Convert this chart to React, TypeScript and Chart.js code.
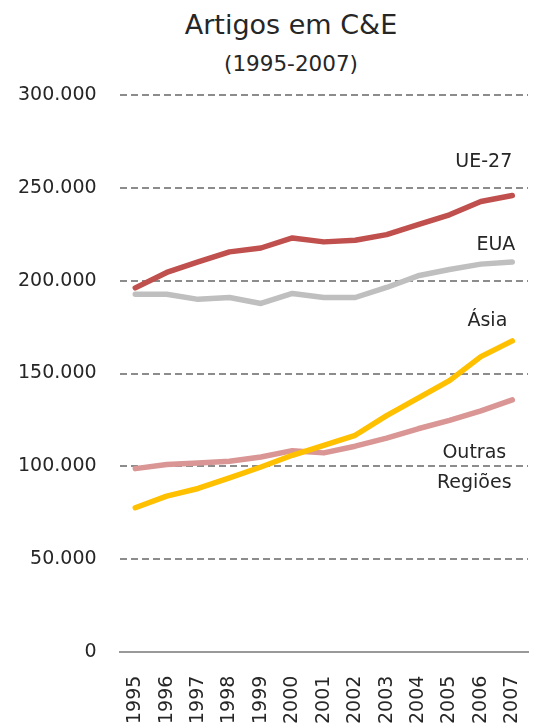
import React, { useEffect, useRef } from "react";
import { Chart, registerables } from "chart.js";

Chart.register(...registerables);

const years = ["1995","1996","1997","1998","1999","2000","2001","2002","2003","2004","2005","2006","2007"];
const ue27 = [196.2,204.5,210.2,215.6,217.7,223.1,221.0,221.9,224.9,230.3,235.6,242.8,246.0].map(v => v * 1000);
const eua = [192.8,192.8,190.0,191.0,187.8,193.2,191.0,191.0,196.4,202.7,206.1,209.0,210.2].map(v => v * 1000);
const asia = [77.6,83.9,88.0,93.7,99.6,105.9,111.3,116.7,127.3,136.7,146.2,159.1,167.6].map(v => v * 1000);
const outras = [98.7,100.9,101.8,102.7,105.0,108.4,107.2,110.8,115.2,120.2,124.7,129.9,135.8].map(v => v * 1000);
const seriesNames = ["UE-27", "EUA", "Ásia", "Outras Regiões"];
const seriesLabelLines = [["UE-27"], ["EUA"], ["Ásia"], ["Outras", "Regiões"]];
const colors = ["#C0504D", "#BFBFBF", "#FFC000", "#D99694"];

const FONT = "'DejaVu Sans', sans-serif";

// label placement relative to last point of each series (pixels)
const labelStyle = [
  { dx: 0, dy: -33, align: "right" as CanvasTextAlign },
  { dx: 3, dy: -17, align: "right" as CanvasTextAlign },
  { dx: -5, dy: -20, align: "right" as CanvasTextAlign },
  { dx: -38, dy: 53, align: "center" as CanvasTextAlign },
];

const seriesLabelPlugin = {
  id: "seriesLabels",
  afterDatasetsDraw(chart: any) {
    const ctx = chart.ctx;
    ctx.save();
    ctx.font = `19px ${FONT}`;
    ctx.fillStyle = "#262626";
    ctx.textBaseline = "middle";
    chart.data.datasets.forEach((ds: any, i: number) => {
      const meta = chart.getDatasetMeta(i);
      const last = meta.data[meta.data.length - 1];
      const st = labelStyle[i];
      ctx.textAlign = st.align;
      seriesLabelLines[i].forEach((line, k) => {
        ctx.fillText(line, last.x + st.dx, last.y + st.dy + k * 30);
      });
    });
    ctx.restore();
  },
};

export default function App() {
  const ref = useRef<HTMLCanvasElement>(null);
  useEffect(() => {
    document.body.style.margin = "0";
    const datasets = [ue27, eua, asia, outras].map((d, i) => ({
      label: seriesNames[i],
      data: d,
      borderColor: colors[i],
      backgroundColor: colors[i],
      borderWidth: 5.5,
      pointRadius: 0,
      pointHoverRadius: 0,
      tension: 0,
      borderCapStyle: "round" as CanvasLineCap,
      borderJoinStyle: "round" as CanvasLineJoin,
    }));
    const chart = new Chart(ref.current!, {
      type: "line",
      data: { labels: years, datasets },
      options: {
        animation: false,
        responsive: false,
        layout: { padding: { left: 18, right: 11, top: 0, bottom: 2 } },
        plugins: { legend: { display: false }, tooltip: { enabled: false } },
        scales: {
          x: {
            offset: true,
            grid: {
              display: true,
              drawOnChartArea: false,
              drawTicks: true,
              tickLength: 22,
              color: "rgba(0,0,0,0)",
              tickColor: "rgba(0,0,0,0)",
            },
            border: { display: true, color: "#999999", width: 2 },
            ticks: {
              color: "#262626",
              font: { family: FONT, size: 19 },
              maxRotation: 90,
              minRotation: 90,
              padding: 2,
              autoSkip: false,
            },
          },
          y: {
            min: 0,
            max: 300000,
            grid: {
              drawTicks: true,
              tickLength: 23,
              tickColor: "rgba(0,0,0,0)",
              color: (c: any) => (c.tick && c.tick.value === 0 ? "rgba(0,0,0,0)" : "#8C8C8C"),
              lineWidth: 2,
            },
            border: { display: false, dash: [7, 4] },
            ticks: {
              stepSize: 50000,
              color: "#262626",
              font: { family: FONT, size: 19 },
              padding: 0,
              callback: (v: any) => (v === 0 ? "0" : Number(v).toLocaleString("de-DE")),
            },
          },
        },
      },
      plugins: [seriesLabelPlugin],
    });
    return () => chart.destroy();
  }, []);
  return (
    <div style={{ width: 539, height: 728, background: "#fff", fontFamily: FONT }}>
      <div style={{ height: 84, paddingLeft: 43, boxSizing: "border-box", textAlign: "center", color: "#262626" }}>
        <div style={{ fontSize: 27, lineHeight: "34px", paddingTop: 8 }}>Artigos em C&amp;E</div>
        <div style={{ fontSize: 21.5, lineHeight: "28px", paddingTop: 8 }}>(1995-2007)</div>
      </div>
      <canvas ref={ref} width={539} height={644} style={{ display: "block" }} />
    </div>
  );
}
